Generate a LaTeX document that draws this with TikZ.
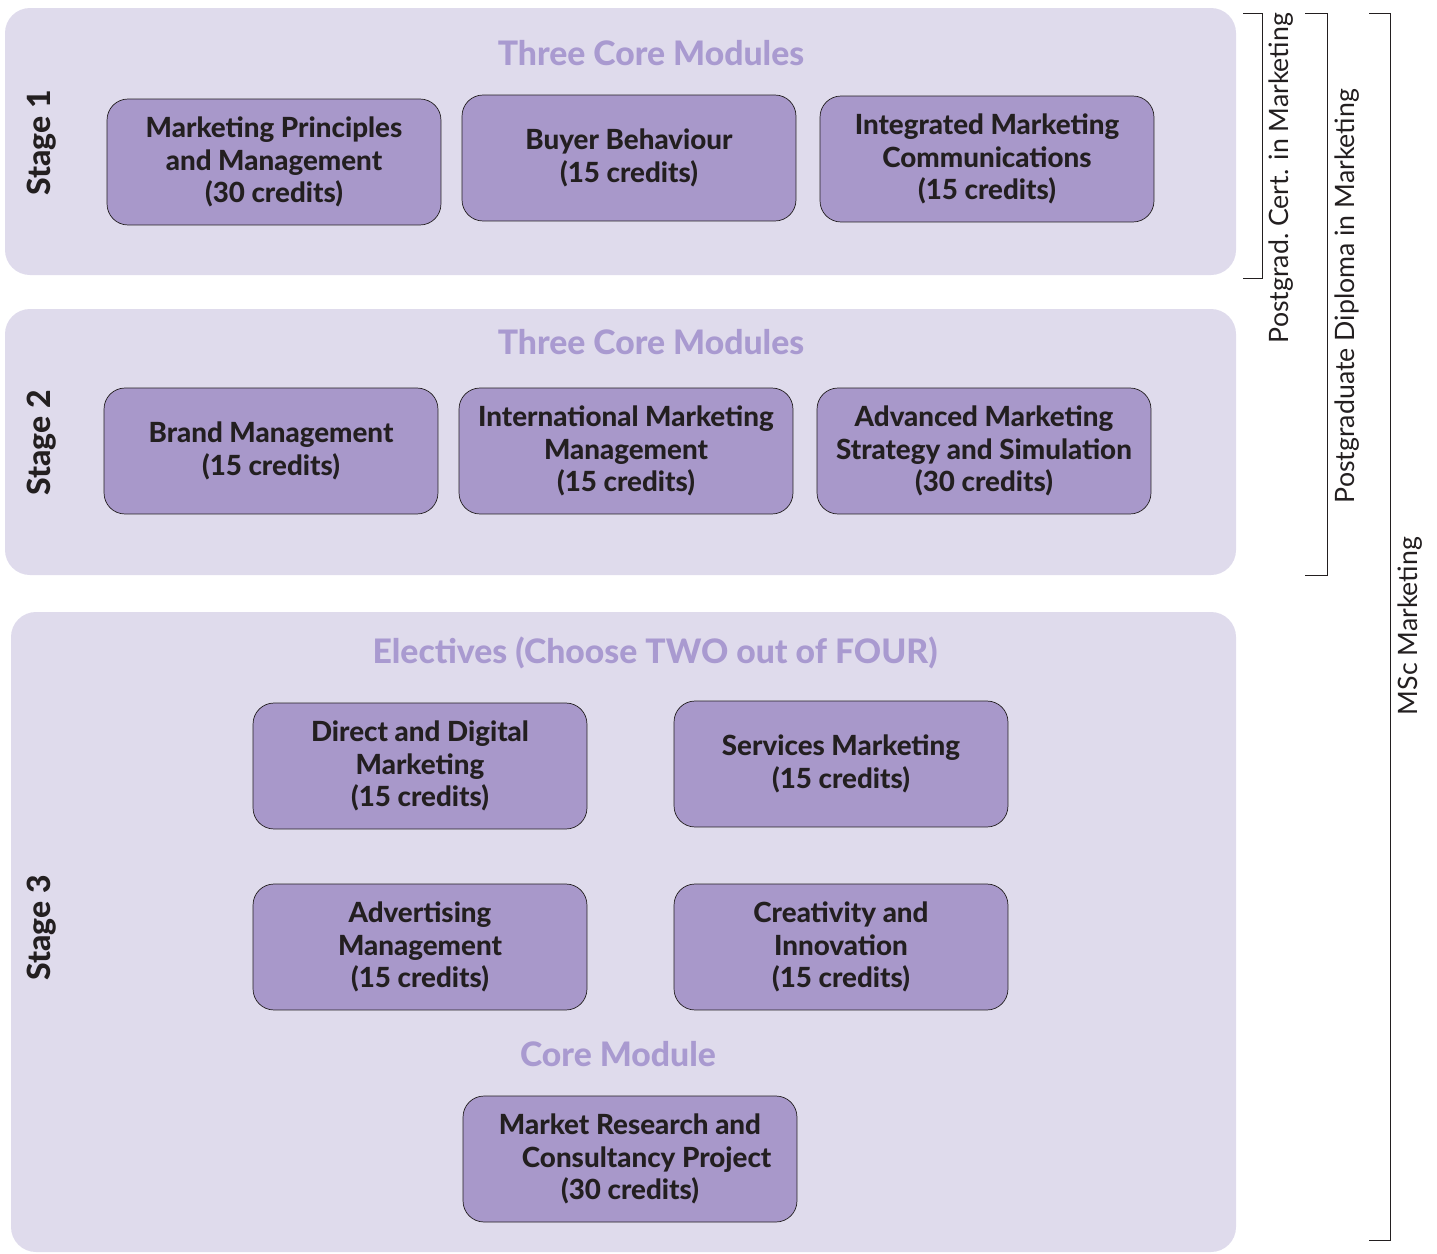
\documentclass[tikz,border=0pt]{standalone}
\usepackage{fontspec}
\setmainfont{Lato}[BoldFont = Lato Heavy]
\usetikzlibrary{positioning}

\definecolor{panelbg}{HTML}{DFDBEC}
\definecolor{modfill}{HTML}{A898CA}
\definecolor{headcol}{HTML}{A99AD0}
\definecolor{inkcol}{HTML}{231F20}

\begin{document}
\begin{tikzpicture}[
        x = 0.02cm, y = -0.02cm,
        outer sep = 0mm,
        panel/.style = {fill = panelbg, rounded corners = 0.5cm},
        module/.style = {
          rectangle, rounded corners = 0.42cm, draw = inkcol, thin, fill = modfill,
          minimum height = 2.52cm, minimum width = 6.68cm, align = center,
          font = \fontsize{15.8}{18.5}\selectfont\bfseries, text = inkcol,
        },
        heading/.style = {font = \fontsize{19.2}{22}\selectfont\bfseries, text = headcol},
        stage/.style = {rotate = 90, font = \fontsize{18.2}{20}\selectfont\bfseries, text = inkcol},
        award/.style = {rotate = 90, font = \fontsize{15.2}{18}\selectfont, text = inkcol},
        bracket/.style = {draw = inkcol, thin}
      ]

      \useasboundingbox (0,0) rectangle (1437,1254);

      % stage panels
      \fill[panel] (5,8) rectangle (1236,275);
      \fill[panel] (5,309) rectangle (1236,575);
      \fill[panel] (11,612) rectangle (1236,1252);

      % stage 1
      \node[heading] (h1) at (651,53) {Three Core Modules};
      \node[stage] (s1) at (42,143) {Stage 1};
      \node[module] (mpm) at (274,162) {Marketing Principles\\and Management\\(30 credits)};
      \node[module] (bb) at (629,158) {Buyer Behaviour\\(15 credits)};
      \node[module] (imc) at (987,159) {Integrated Marketing\\Communications\\(15 credits)};

      % stage 2
      \node[heading] (h2) at (651,342) {Three Core Modules};
      \node[stage] (s2) at (42,443) {Stage 2};
      \node[module] (bm) at (271,451) {Brand Management\\(15 credits)};
      \node[module] (imm) at (626,451) {International Marketing\\Management\\(15 credits)};
      \node[module] (amss) at (984,451) {Advanced Marketing\\Strategy and Simulation\\(30 credits)};

      % stage 3
      \node[heading] (h3) at (655,653) {Electives (Choose TWO out of FOUR)};
      \node[stage] (s3) at (42,928) {Stage 3};
      \node[module] (ddm) at (420,766) {Direct and Digital\\Marketing\\(15 credits)};
      \node[module] (sm) at (841,764) {Services Marketing\\(15 credits)};
      \node[module] (am) at (420,947) {Advertising\\Management\\(15 credits)};
      \node[module] (ci) at (841,947) {Creativity and\\Innovation\\(15 credits)};
      \node[heading] (h4) at (618,1054) {Core Module};
      \node[module] (mrcp) at (630,1159) {Market Research and\\\hspace{1.2em}Consultancy Project\\(30 credits)};

      % award brackets
      \draw[bracket] (1243,13) -- (1262,13) -- (1262,278) -- (1243,278);
      \node[award] (pgc) at (1281,178) {Postgrad.\ Cert. in Marketing};
      \draw[bracket] (1305,13) -- (1327,13) -- (1327,575) -- (1305,575);
      \node[award] (pgd) at (1347,296) {Postgraduate Diploma in Marketing};
      \draw[bracket] (1369,13) -- (1390,13) -- (1390,1240) -- (1369,1240);
      \node[award] (msc) at (1410,626) {MSc Marketing};
    \end{tikzpicture}
\end{document}
